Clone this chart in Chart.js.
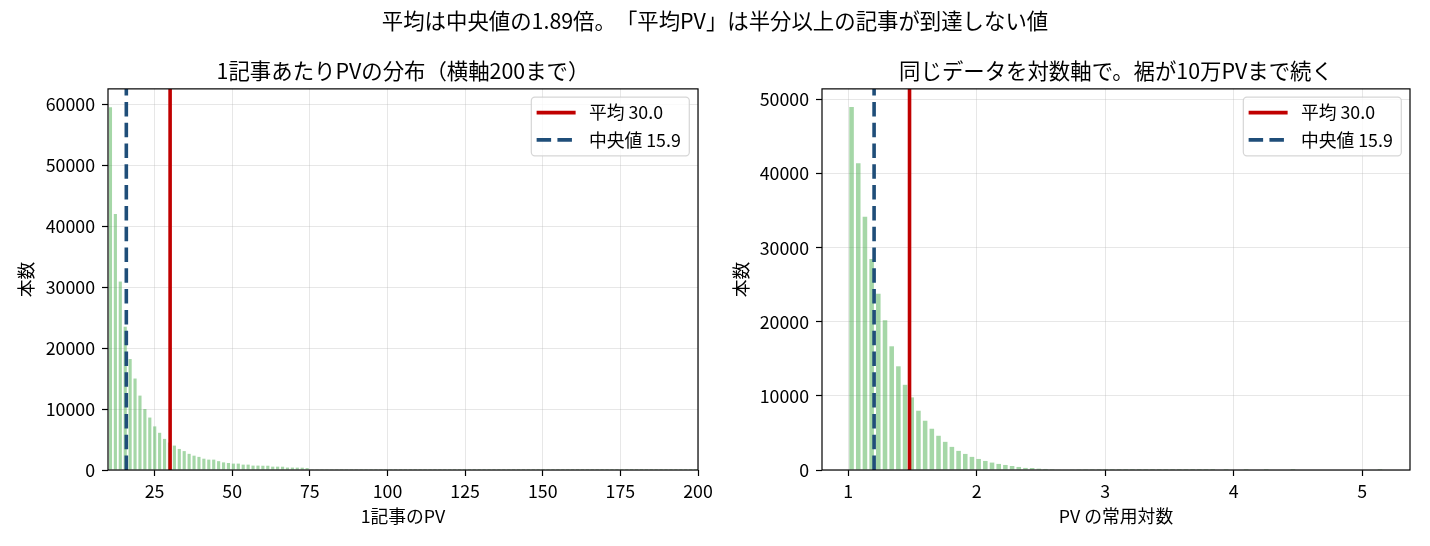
<!DOCTYPE html>
<html lang="ja">
<head>
<meta charset="utf-8">
<script src="https://cdn.jsdelivr.net/npm/chart.js@4.4.1/dist/chart.umd.min.js"></script>
<style>
  html, body { margin: 0; padding: 0; background: #fff; }
  #page { position: relative; width: 1430px; height: 546px; overflow: hidden; }
  #suptitle {
    position: absolute; left: 0; top: 0; width: 1430px; height: 40px;
    line-height: 40px; text-align: center; color: #000; z-index: 2;
    font-family: 'Noto Sans CJK JP', 'Noto Sans', sans-serif; font-size: 21.4px;
    text-spacing-trim: space-all;
  }
  .panel { position: absolute; top: 0; width: 715px; height: 546px; }
  #left-panel { left: 0; }
  #right-panel { left: 715px; }
</style>
</head>
<body>
<div id="page">
  <div id="suptitle">平均は中央値の1.89倍。「平均PV」は半分以上の記事が到達しない値</div>
  <div class="panel" id="left-panel"><canvas id="pv-chart" width="715" height="546"></canvas></div>
  <div class="panel" id="right-panel"><canvas id="log-chart" width="715" height="546"></canvas></div>
</div>
<script>
  // histogram of PV per article, bins over [10, 200]
  const linearBinRange = [10, 200];
  const linearCounts = [
    59500, 42000, 30900, 23500, 18200, 15000, 12200, 10000, 8600, 7150,
    6100, 5100, 4500, 4000, 3450, 3100, 2650, 2350, 2150, 1850,
    1700, 1700, 1450, 1250, 1150, 1050, 1050, 880, 880, 720,
    720, 700, 700, 550, 550, 540, 400, 400, 390, 380,
    320, 50, 45, 40, 38, 35, 32, 30, 28, 26,
    24, 22, 20, 19, 18, 17, 16, 15, 14, 13,
    12, 11, 10, 10, 9, 9, 8, 8, 7, 7,
    6, 6, 6, 5, 5, 5, 5, 4, 4, 4,
    4, 4, 3, 3, 3, 3, 3, 3, 3, 2,
    2, 2, 2, 2, 2, 2, 2, 2, 2, 2,
    1, 1, 1, 1, 1, 1, 1, 1, 1, 1,
    1, 1, 1, 1, 1, 1, 1, 1, 1, 1
  ];

  // same data, log10(PV), bins over [1.0, 5.164]
  const logBinRange = [1.0, 5.164];
  const logCounts = [
    49000, 41400, 34200, 28500, 23800, 20200, 16700, 14000, 11500, 9800,
    8000, 6650, 5570, 4620, 3800, 3120, 2580, 2170, 1770, 1490,
    1220, 1000, 820, 680, 540, 410, 280, 270, 180, 140,
    110, 80, 60, 45, 35, 27, 20, 15, 12, 10,
    8, 6, 5, 4, 3, 3, 2, 2, 2, 1,
    1, 1, 1, 1, 1, 0, 1, 0, 0, 1,
    0, 0, 1, 0, 0, 0, 1, 0, 0, 0,
    0, 0, 0, 0, 0, 0, 0, 0, 0, 1
  ];

  const meanPV = 30.0;
  const medianPV = 15.9;

  const linearXRange = [10, 200];
  const linearXTicks = [25, 50, 75, 100, 125, 150, 175, 200];
  const linearYMax = 62500;
  const linearYTicks = [0, 10000, 20000, 30000, 40000, 50000, 60000];

  const logXRange = [0.796, 5.372];
  const logXTicks = [1, 2, 3, 4, 5];
  const logYMax = 51450;
  const logYTicks = [0, 10000, 20000, 30000, 40000, 50000];

  const FONT = "'Noto Sans CJK JP', 'Noto Sans', sans-serif";
  const TICK_SIZE = 17.8;
  const TITLE_SIZE = 21.4;
  const BAR_COLOR = 'rgba(76, 175, 80, 0.5)';
  const MEAN_COLOR = '#c00000';
  const MEDIAN_COLOR = '#1f4e79';
  const GRID_COLOR = 'rgba(176, 176, 176, 0.3)';

  Chart.defaults.font.family = FONT;
  Chart.defaults.color = '#000';

  const binCenters = (range, n) => {
    const width = (range[1] - range[0]) / n;
    return Array.from({ length: n }, (_, i) => range[0] + (i + 0.5) * width);
  };

  const toBars = (range, counts) => {
    const centers = binCenters(range, counts.length);
    return counts.map((y, i) => ({ x: centers[i], y }));
  };

  const vline = (x, yMax) => [{ x, y: 0 }, { x, y: yMax }];

  // top and right spines too, like a matplotlib axes box
  const frame = {
    id: 'frame',
    afterDatasetsDraw(chart) {
      const { ctx, chartArea: a } = chart;
      ctx.save();
      ctx.strokeStyle = '#000';
      ctx.lineWidth = 1.2;
      ctx.strokeRect(a.left, a.top, a.right - a.left, a.bottom - a.top);
      ctx.restore();
    }
  };

  // legend box inside the plot, upper right
  const insideLegend = {
    id: 'insideLegend',
    afterDraw(chart) {
      const { ctx, chartArea } = chart;
      const items = chart.data.datasets.filter((d) => d.type === 'line');
      ctx.save();
      ctx.font = `${TICK_SIZE}px ${FONT}`;
      const textW = Math.max(...items.map((d) => ctx.measureText(d.label).width));
      const w = 57.6 + textW + 8.5;
      const h = 58.7;
      const x0 = chartArea.right - 8.7 - w;
      const y0 = chartArea.top + 8.3;
      ctx.beginPath();
      ctx.roundRect(x0, y0, w, h, 3.6);
      ctx.fillStyle = 'rgba(255, 255, 255, 0.8)';
      ctx.fill();
      ctx.strokeStyle = 'rgba(204, 204, 204, 0.8)';
      ctx.lineWidth = 1.2;
      ctx.stroke();
      items.forEach((d, i) => {
        const cy = y0 + 15.4 + i * 27.3;
        ctx.beginPath();
        ctx.setLineDash(d.borderDash || []);
        ctx.strokeStyle = d.borderColor;
        ctx.lineWidth = d.borderWidth;
        ctx.moveTo(x0 + 5.3, cy);
        ctx.lineTo(x0 + 44.3, cy);
        ctx.stroke();
        ctx.setLineDash([]);
        ctx.fillStyle = '#000';
        ctx.textAlign = 'left';
        ctx.textBaseline = 'middle';
        ctx.fillText(d.label, x0 + 57.6, cy);
      });
      ctx.restore();
    }
  };

  const tickFont = { size: TICK_SIZE };

  const initChart = (canvasId, cfg) => {
    const canvasCtx = document.getElementById(canvasId).getContext('2d');
    return new Chart(canvasCtx, {
      type: 'bar',
      data: {
        datasets: [
          {
            type: 'line',
            label: `平均 ${meanPV.toFixed(1)}`,
            data: vline(cfg.meanX, cfg.yMax),
            borderColor: MEAN_COLOR,
            borderWidth: 3.6,
            pointRadius: 0,
            order: 1
          },
          {
            type: 'line',
            label: `中央値 ${medianPV.toFixed(1)}`,
            data: vline(cfg.medianX, cfg.yMax),
            borderColor: MEDIAN_COLOR,
            borderWidth: 3.6,
            borderDash: [14.5, 6.3],
            pointRadius: 0,
            order: 0
          },
          {
            label: 'counts',
            data: toBars(cfg.binRange, cfg.counts),
            backgroundColor: BAR_COLOR,
            borderWidth: 0,
            barPercentage: cfg.barPct,
            categoryPercentage: 1,
            order: 2
          }
        ]
      },
      options: {
        responsive: false,
        animation: false,
        events: [],
        layout: { padding: { top: 58, left: 0, right: cfg.padRight, bottom: 0 } },
        plugins: {
          legend: { display: false },
          tooltip: { enabled: false },
          title: {
            display: true,
            text: cfg.title,
            fullSize: false,
            color: '#000',
            font: { size: TITLE_SIZE, weight: 'normal' },
            padding: { top: 0, bottom: 5.2 }
          }
        },
        scales: {
          x: {
            type: 'linear',
            min: cfg.xRange[0],
            max: cfg.xRange[1],
            offset: false,
            border: { display: false },
            grid: { offset: false, color: GRID_COLOR, lineWidth: 1, tickColor: '#000', tickLength: 6, tickWidth: 1.2 },
            ticks: { font: tickFont, color: '#000', padding: 5, maxRotation: 0, autoSkip: false, callback: (v) => String(v) },
            afterBuildTicks: (s) => { s.ticks = cfg.xTicks.map((value) => ({ value })); },
            afterFit: (s) => {
              s.height = 76;
              s.paddingLeft = 0;
              s.paddingRight = 0;
            },
            title: { display: true, text: cfg.xTitle, color: '#000', font: tickFont, padding: { top: 0, bottom: 19 } }
          },
          y: {
            min: 0,
            max: cfg.yMax,
            border: { display: false },
            grid: { color: GRID_COLOR, lineWidth: 1, tickColor: '#000', tickLength: 6, tickWidth: 1.2 },
            ticks: { font: tickFont, color: '#000', padding: 7, autoSkip: false, callback: (v) => String(v) },
            afterBuildTicks: (s) => { s.ticks = cfg.yTicks.map((value) => ({ value })); },
            afterFit: (s) => {
              s.width = cfg.yWidth;
              s.paddingTop = 0;
              s.paddingBottom = 0;
            },
            title: { display: true, text: '本数', color: '#000', font: tickFont, padding: { top: 16, bottom: 0 } }
          }
        }
      },
      plugins: [frame, insideLegend]
    });
  };

  initChart('pv-chart', {
    title: '1記事あたりPVの分布（横軸200まで）',
    xTitle: '1記事のPV',
    binRange: linearBinRange,
    counts: linearCounts,
    xRange: linearXRange,
    xTicks: linearXTicks,
    yMax: linearYMax,
    yTicks: linearYTicks,
    meanX: meanPV,
    medianX: medianPV,
    barPct: 0.64,
    yWidth: 108,
    padRight: 17
  });

  initChart('log-chart', {
    title: '同じデータを対数軸で。裾が10万PVまで続く',
    xTitle: 'PV の常用対数',
    binRange: logBinRange,
    counts: logCounts,
    xRange: logXRange,
    xTicks: logXTicks,
    yMax: logYMax,
    yTicks: logYTicks,
    meanX: Math.log10(meanPV),
    medianX: Math.log10(medianPV),
    barPct: 0.68,
    yWidth: 107,
    padRight: 20
  });
</script>
</body>
</html>
